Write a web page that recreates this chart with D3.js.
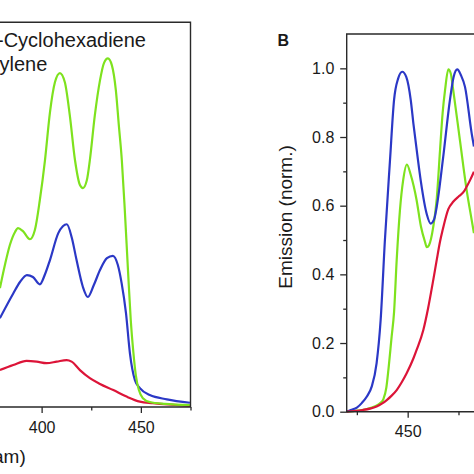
<!DOCTYPE html>
<html>
<head>
<meta charset="utf-8">
<script src="https://cdn.jsdelivr.net/npm/d3@7/dist/d3.min.js"></script>
<style>
  html, body { margin: 0; padding: 0; background: #fff; }
  svg { display: block; font-family: "Liberation Sans", Arial, sans-serif; }
</style>
</head>
<body>
<svg id="chart" width="474" height="474"></svg>
<script>
// ---------- Panel A (left, partially visible) ----------
const greenA = [[379.0,0.309],[381.5,0.369],[384.0,0.421],[386.6,0.455],[388.1,0.465],[390.6,0.457],[394.1,0.436],[396.6,0.46],[399.1,0.538],[401.7,0.642],[404.2,0.766],[406.7,0.844],[409.2,0.868],[411.7,0.844],[414.2,0.758],[416.8,0.642],[419.3,0.577],[420.8,0.569],[422.8,0.59],[424.3,0.642],[426.8,0.758],[429.4,0.849],[431.4,0.894],[433.4,0.906],[435.4,0.888],[437.4,0.823],[438.9,0.732],[440.4,0.642],[441.9,0.512],[443.5,0.356],[444.9,0.226],[446.2,0.143],[447.5,0.081],[449.0,0.044],[451.0,0.023],[454.5,0.013],[462.1,0.008],[474.7,0.005]];
const blueA = [[379.0,0.231],[385.7,0.295],[389.1,0.325],[392.6,0.343],[395.6,0.338],[399.1,0.319],[401.7,0.345],[404.2,0.382],[408.4,0.452],[410.7,0.47],[412.7,0.475],[415.2,0.44],[417.6,0.382],[420.8,0.312],[423.3,0.286],[426.3,0.317],[429.4,0.356],[432.9,0.387],[435.9,0.393],[438.4,0.369],[440.3,0.322],[442.5,0.244],[444.5,0.139],[447.0,0.07],[449.5,0.049],[454.5,0.031],[463.1,0.02],[474.7,0.011]];
const redA = [[379.0,0.096],[385.7,0.109],[392.4,0.12],[397.5,0.118],[402.5,0.114],[407.6,0.118],[412.6,0.122],[415.1,0.118],[419.3,0.096],[424.3,0.075],[429.4,0.06],[436.1,0.044],[442.8,0.027],[449.5,0.014],[456.0,0.01],[474.7,0.003]];
const xTicksA = [400, 450];
const xMinorA = [375, 425, 475];
const legendA = ["-Cyclohexadiene", "ylene"];
const xTitleA = "am)";

// ---------- Panel B (right) ----------
const blueB = [[420,0.0],[422,0.005],[425,0.012],[427.4,0.025],[430,0.045],[432.3,0.073],[434.7,0.141],[436.7,0.267],[438.8,0.5],[441.3,0.732],[443.3,0.908],[445.3,0.97],[447.3,0.99],[449.3,0.975],[451.5,0.908],[452.8,0.84],[454.7,0.75],[456.5,0.67],[459.4,0.575],[461.3,0.548],[463,0.56],[464.3,0.597],[467.5,0.743],[470.8,0.908],[472.6,0.975],[474.4,0.997],[476.2,0.98],[478.2,0.946],[481.5,0.81],[482.6,0.772]];
const greenB = [[420,0.0],[425,0.003],[430,0.008],[434,0.016],[436.5,0.025],[438,0.036],[439.5,0.07],[440.5,0.121],[442.1,0.218],[443.3,0.29],[444.6,0.442],[446.2,0.587],[447.8,0.675],[449.6,0.72],[451.5,0.69],[454.4,0.616],[456.5,0.54],[458.5,0.495],[459.4,0.479],[460.5,0.485],[462.6,0.539],[464.3,0.62],[465.9,0.76],[467.2,0.87],[468.4,0.937],[470,0.997],[471.2,0.985],[472.4,0.937],[475.7,0.791],[479,0.646],[481.5,0.558],[482.6,0.52]];
const redB = [[420,0],[424,0.002],[428,0.005],[431.5,0.009],[434.7,0.015],[437.5,0.024],[439.7,0.034],[442,0.046],[444.6,0.063],[447,0.085],[449.5,0.112],[452.8,0.155],[454.4,0.18],[457.7,0.238],[460,0.3],[462.6,0.384],[464.3,0.442],[465.9,0.495],[467.2,0.529],[470,0.59],[472.5,0.612],[475.3,0.628],[477.5,0.64],[479,0.655],[481,0.678],[482.6,0.699]];
const xTicksB = [450];
const xMinorB = [425, 475];
const yTicksB = [0, 0.2, 0.4, 0.6, 0.8, 1.0];
const yMinorB = [0.1, 0.3, 0.5, 0.7, 0.9];
const yTitleB = "Emission (norm.)";
const panelLabelB = "B";

const colors = { green: "#7ee21e", blue: "#2b38c6", red: "#dc1438" };
const axisColor = "#2a2a2a";
const textColor = "#1a1a1a";

const svg = d3.select("#chart");

// ----- scales -----
const xA = d3.scaleLinear().domain([375, 475]).range([-8, 190.5]);
const yA = d3.scaleLinear().domain([0, 1]).range([407, 22.3]);
const xB = d3.scaleLinear().domain([420, 500]).range([346.7, 509.3]);
const yB = d3.scaleLinear().domain([0, 1.1]).range([411.7, 34]);

function styleAxis(g, size) {
  g.select(".domain").remove();
  g.selectAll(".tick line").attr("stroke", axisColor).attr("stroke-width", 1.3);
  g.selectAll(".tick text").attr("fill", textColor).style("font-size", size + "px")
    .style("font-family", '"Liberation Sans", Arial, sans-serif');
}

// ----- Panel A -----
const gA = svg.append("g");
const lineA = d3.line().x(d => xA(d[0])).y(d => yA(d[1])).curve(d3.curveMonotoneX);
[[redA, colors.red], [blueA, colors.blue], [greenA, colors.green]].forEach(([data, c]) => {
  gA.append("path").datum(data).attr("d", lineA).attr("fill", "none")
    .attr("stroke", c).attr("stroke-width", 2.2).attr("stroke-linejoin", "round");
});
gA.append("path")
  .attr("d", `M${xA.range()[0]},${yA(1)}H${xA(475)}V${yA(0)}H${xA.range()[0]}`)
  .attr("fill", "none").attr("stroke", axisColor).attr("stroke-width", 1.4);
const axA = gA.append("g").attr("transform", `translate(0,${yA(0)})`)
  .call(d3.axisBottom(xA).tickValues(xTicksA).tickSize(6).tickPadding(8.6).tickSizeOuter(0).tickFormat(d3.format("d")));
styleAxis(axA, 16);
const axAm = gA.append("g").attr("transform", `translate(0,${yA(0)})`)
  .call(d3.axisBottom(xA).tickValues(xMinorA).tickSize(3.5).tickSizeOuter(0).tickFormat(""));
styleAxis(axAm, 16);
gA.append("text").attr("x", -3).attr("y", 47).attr("fill", textColor)
  .style("font-size", "20px").text(legendA[0]);
gA.append("text").attr("x", -0.5).attr("y", 70.5).attr("fill", textColor)
  .style("font-size", "20px").text(legendA[1]);
gA.append("text").attr("x", -7).attr("y", 463).attr("fill", textColor)
  .style("font-size", "19px").text(xTitleA);

// ----- Panel B -----
const gB = svg.append("g");
const lineB = d3.line().x(d => xB(d[0])).y(d => yB(d[1])).curve(d3.curveMonotoneX);
[[greenB, colors.green], [blueB, colors.blue], [redB, colors.red]].forEach(([data, c]) => {
  gB.append("path").datum(data).attr("d", lineB).attr("fill", "none")
    .attr("stroke", c).attr("stroke-width", 2.2).attr("stroke-linejoin", "round");
});
gB.append("path")
  .attr("d", `M${xB.range()[1]},${yB(1.1)}H${xB(420)}V${yB(0)}H${xB.range()[1]}`)
  .attr("fill", "none").attr("stroke", axisColor).attr("stroke-width", 1.4);
const axBx = gB.append("g").attr("transform", `translate(0,${yB(0)})`)
  .call(d3.axisBottom(xB).tickValues(xTicksB).tickSize(6).tickPadding(7.9).tickSizeOuter(0).tickFormat(d3.format("d")));
styleAxis(axBx, 16);
const axBxm = gB.append("g").attr("transform", `translate(0,${yB(0)})`)
  .call(d3.axisBottom(xB).tickValues(xMinorB).tickSize(3.5).tickSizeOuter(0).tickFormat(""));
styleAxis(axBxm, 16);
const axBy = gB.append("g").attr("transform", `translate(${xB(420)},0)`)
  .call(d3.axisLeft(yB).tickValues(yTicksB).tickSize(6.5).tickPadding(5.9).tickSizeOuter(0).tickFormat(d3.format(".1f")));
styleAxis(axBy, 16);
const axBym = gB.append("g").attr("transform", `translate(${xB(420)},0)`)
  .call(d3.axisLeft(yB).tickValues(yMinorB).tickSize(3.5).tickSizeOuter(0).tickFormat(""));
styleAxis(axBym, 16);
gB.append("text").attr("transform", "translate(292,217) rotate(-90)")
  .attr("text-anchor", "middle").attr("fill", textColor).style("font-size", "19px").text(yTitleB);
gB.append("text").attr("x", 277.5).attr("y", 46).attr("fill", textColor)
  .style("font-size", "16px").style("font-weight", "bold").text(panelLabelB);
</script>
</body>
</html>
